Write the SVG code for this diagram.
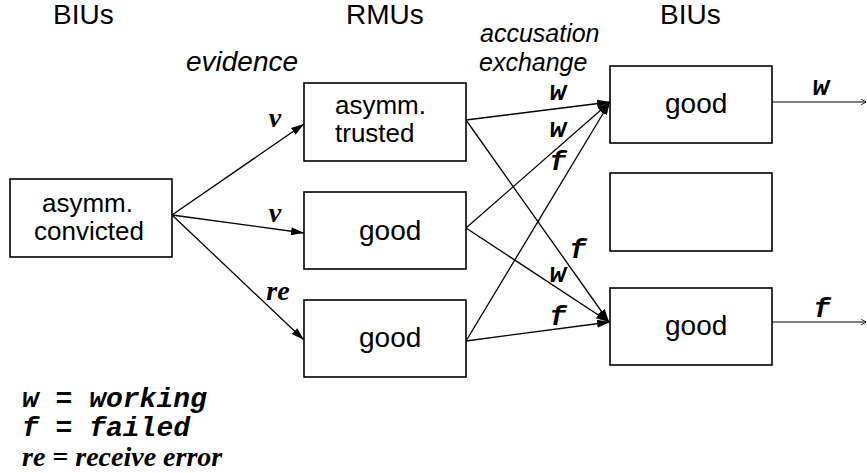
<svg xmlns="http://www.w3.org/2000/svg" width="867" height="473" viewBox="0 0 867 473">
<defs>
<marker id="ah" markerUnits="userSpaceOnUse" markerWidth="14" markerHeight="10" refX="13" refY="4" orient="auto">
<path d="M0,0 L13,4 L0,8 z" fill="#000"/>
</marker>
<marker id="sm" markerUnits="userSpaceOnUse" markerWidth="8" markerHeight="8" refX="5" refY="3" orient="auto">
<path d="M0,0 L5,3 L0,6" fill="none" stroke="#000" stroke-width="0.8"/>
</marker>
<style>
.box{fill:#fff;stroke:#000;stroke-width:1.6}
.t{font-family:"Liberation Sans",Arial,sans-serif;font-size:28px;fill:#000}
.tb{font-family:"Liberation Sans",Arial,sans-serif;font-size:26px;fill:#000}
.ti{font-family:"Liberation Sans",Arial,sans-serif;font-size:28px;font-style:italic;fill:#000}
.ti2{font-family:"Liberation Sans",Arial,sans-serif;font-size:25px;font-style:italic;fill:#000}
.c{font-family:"Liberation Mono","Courier New",monospace;font-size:28px;font-style:italic;font-weight:bold;fill:#000}
.r{font-family:"Liberation Serif","Times New Roman",serif;font-size:28px;font-style:italic;font-weight:bold;fill:#000}
.ln{stroke:#000;stroke-width:1.3;fill:none;marker-end:url(#ah)}
.out{stroke:#000;stroke-width:1.2;fill:none;marker-end:url(#sm)}
</style>
</defs>
<rect width="867" height="473" fill="#fff"/>
<g id="headers">
<text class="t" x="53" y="24">BIUs</text>
<text class="t" x="346" y="24">RMUs</text>
<text class="t" x="660" y="24">BIUs</text>
<text class="ti" x="186" y="71">evidence</text>
<text class="ti2" x="480" y="42">accusation</text>
<text class="ti2" x="479" y="71">exchange</text>
</g>
<g id="connectors">
<line class="ln" x1="172" y1="215" x2="304" y2="124"/>
<line class="ln" x1="172" y1="215" x2="304" y2="233"/>
<line class="ln" x1="172" y1="215" x2="304" y2="340"/>
<line class="ln" x1="466" y1="120" x2="610" y2="102"/>
<line class="ln" x1="466" y1="120" x2="609" y2="322"/>
<line class="ln" x1="466" y1="228" x2="610" y2="102"/>
<line class="ln" x1="466" y1="228" x2="609" y2="322"/>
<line class="ln" x1="466" y1="341" x2="610" y2="102"/>
<line class="ln" x1="466" y1="341" x2="610" y2="322"/>
<line class="out" x1="772" y1="102" x2="866" y2="102"/>
<line class="out" x1="772" y1="322" x2="866" y2="322"/>
<text class="r" x="275" y="127" text-anchor="middle">v</text>
<text class="r" x="275" y="222" text-anchor="middle">v</text>
<text class="r" x="278" y="300" text-anchor="middle">re</text>
<text class="c" x="558" y="100" text-anchor="middle">w</text>
<text class="c" x="558" y="137" text-anchor="middle">w</text>
<text class="c" x="558" y="170" text-anchor="middle">f</text>
<text class="c" x="578" y="258" text-anchor="middle">f</text>
<text class="c" x="558" y="282" text-anchor="middle">w</text>
<text class="c" x="558" y="325" text-anchor="middle">f</text>
<text class="c" x="821" y="95" text-anchor="middle">w</text>
<text class="c" x="822" y="317" text-anchor="middle">f</text>
</g>
<g id="biu-convicted">
<rect class="box" x="10" y="179" width="162" height="78"/>
<text class="tb" x="42" y="212">asymm.</text>
<text class="tb" x="34" y="240">convicted</text>
</g>
<g id="rmu-trusted">
<rect class="box" x="304" y="83" width="162" height="78"/>
<text class="tb" x="335" y="114">asymm.</text>
<text class="tb" x="335" y="142">trusted</text>
</g>
<g id="rmu-good1">
<rect class="box" x="304" y="192" width="162" height="77"/>
<text class="t" x="359" y="240">good</text>
</g>
<g id="rmu-good2">
<rect class="box" x="304" y="300" width="162" height="77"/>
<text class="t" x="359" y="347">good</text>
</g>
<g id="biu-good1">
<rect class="box" x="610" y="66" width="162" height="77"/>
<text class="t" x="665" y="113">good</text>
</g>
<g id="biu-empty">
<rect class="box" x="610" y="173" width="162" height="78"/>
</g>
<g id="biu-good2">
<rect class="box" x="610" y="288" width="162" height="77"/>
<text class="t" x="665" y="335">good</text>
</g>
<g id="legend">
<text class="c" x="22" y="407">w = working</text>
<text class="c" x="22" y="436">f = failed</text>
<text class="r" x="22" y="466">re = receive error</text>
</g>
</svg>
